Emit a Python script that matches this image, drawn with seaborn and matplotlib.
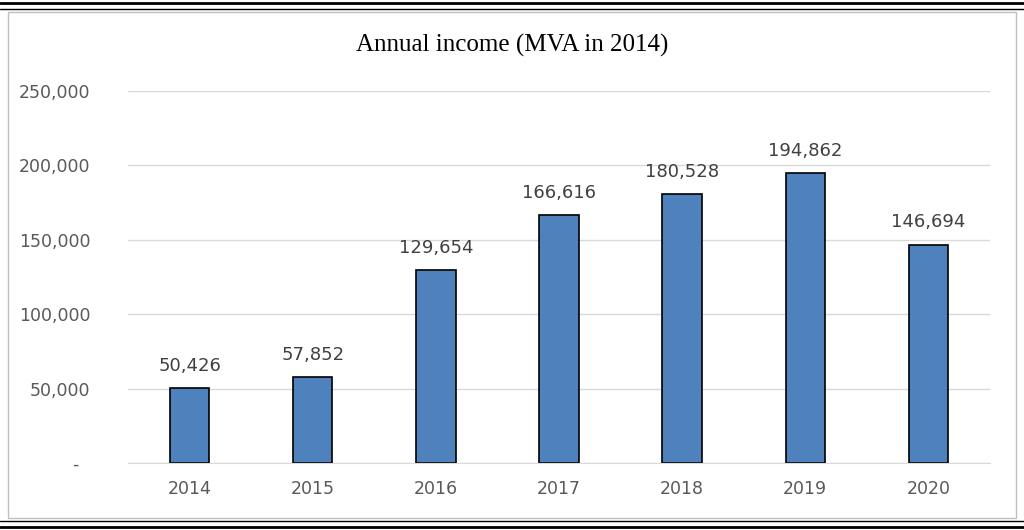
import matplotlib
matplotlib.use("Agg")
import matplotlib.pyplot as plt
import seaborn as sns
import pandas as pd
from matplotlib.patches import Rectangle
from matplotlib.lines import Line2D

years = ["2014", "2015", "2016", "2017", "2018", "2019", "2020"]
income = [50426, 57852, 129654, 166616, 180528, 194862, 146694]
yticks = [0, 50000, 100000, 150000, 200000, 250000]
ytick_labels = ["-  ", "50,000", "100,000", "150,000", "200,000", "250,000"]

df = pd.DataFrame({"year": years, "income": income})

sns.set_style("white")
fig = plt.figure(figsize=(10.24, 5.30), dpi=100)
ax = fig.add_axes([128 / 1024, 1 - 463 / 530, 862 / 1024, 372 / 530])

sns.barplot(data=df, x="year", y="income", color="#4F81BD", width=0.32,
            edgecolor="black", linewidth=1.2, saturation=1, ax=ax)

for i, v in enumerate(income):
    ax.text(i, v + 9000, f"{v:,}", ha="center", va="bottom",
            fontsize=13, color="#404040")

ax.set_ylim(0, 250000)
ax.set_yticks(yticks)
ax.set_yticklabels(ytick_labels)
ax.yaxis.grid(True, color="#D9D9D9", linewidth=1)
ax.set_axisbelow(True)
for s in ["top", "right", "left"]:
    ax.spines[s].set_visible(False)
ax.spines["bottom"].set_color("#D9D9D9")
ax.tick_params(axis="both", length=0, labelsize=12.5, colors="#595959", pad=12)
ax.tick_params(axis="y", pad=27)
ax.set_xlabel("")
ax.set_ylabel("")

fig.text(0.5, 1 - 45 / 530, "Annual income (MVA in 2014)", ha="center",
         va="center", fontsize=18, family="Liberation Serif", color="black")

# frame and double rules
fig.patches.append(Rectangle((8 / 1024, 12 / 530), 1008 / 1024, 506 / 530,
                             transform=fig.transFigure, fill=False,
                             edgecolor="#BFBFBF", linewidth=1))
for y, lw in [(3, 2), (9, 1), (521, 1), (527, 2)]:
    fig.lines.append(Line2D([0, 1], [1 - y / 530, 1 - y / 530],
                            transform=fig.transFigure, color="black", linewidth=lw))

fig.savefig("out.png", dpi=100)
